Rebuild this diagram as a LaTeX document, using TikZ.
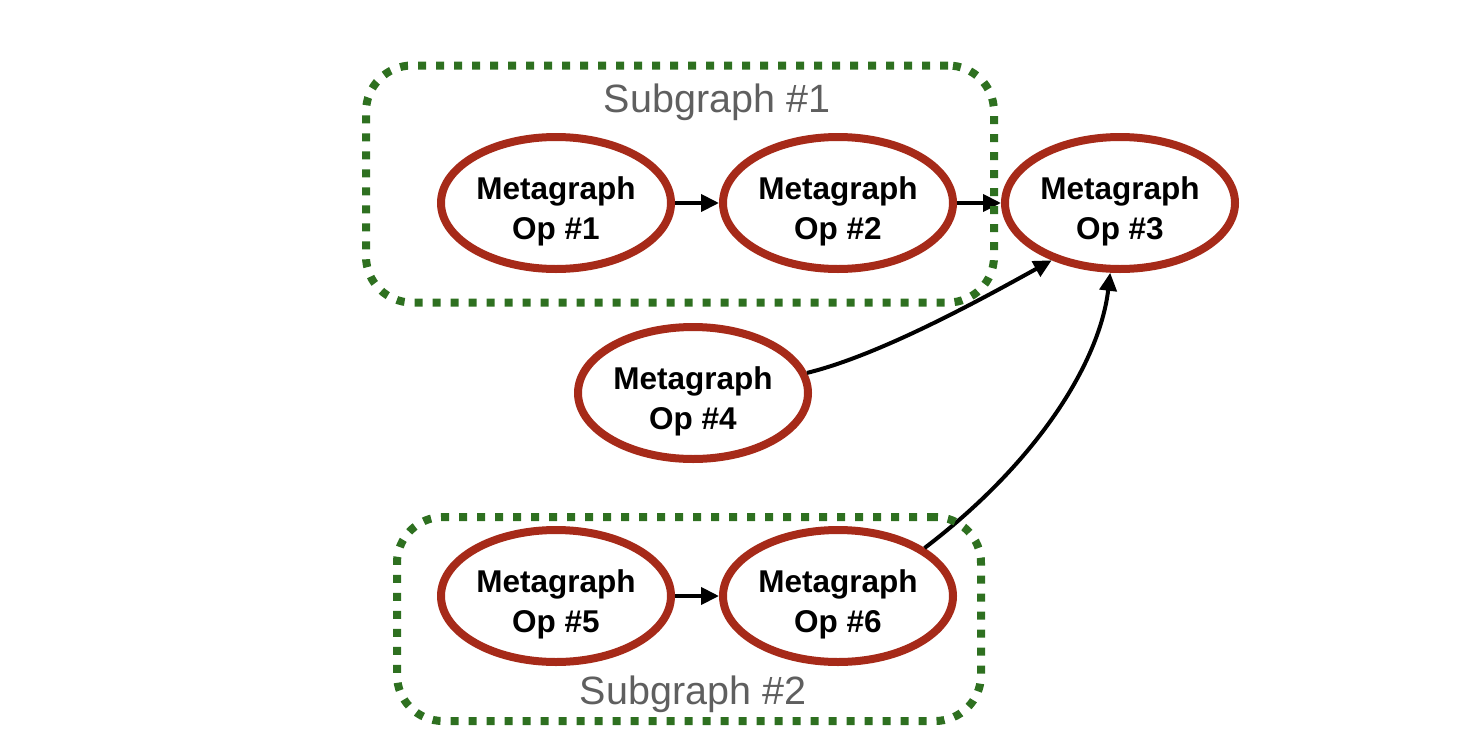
\documentclass[tikz,border=0pt]{standalone}
\usepackage{fontspec}
\setmainfont{Liberation Sans}
\usetikzlibrary{shapes.geometric,arrows.meta}
\definecolor{opred}{RGB}{166,42,25}
\definecolor{subgreen}{RGB}{46,112,32}
\definecolor{labelgray}{RGB}{95,95,95}
\tikzset{
  opnode/.style={ellipse, draw=opred, line width=8pt, fill=white,
    minimum width=230pt, minimum height=132pt, inner sep=0pt},
  optext/.style={align=center, text depth=0pt, inner sep=0pt, yshift=-5pt,
    font=\bfseries\fontsize{31.5}{40}\selectfont},
  subbox/.style={rectangle, draw=subgreen, line width=8pt,
    dash pattern=on 8pt off 10pt, rounded corners=46pt, inner sep=0pt},
  sublabel/.style={anchor=base, text=labelgray, inner sep=0pt,
    font=\fontsize{39.5}{46}\selectfont},
  flow/.style={line width=4pt, -{Triangle[length=18pt,width=17pt]}}
}
\begin{document}
\begin{tikzpicture}[x=1pt,y=-1pt]
\useasboundingbox (0,0) rectangle (1467,739);
% operation nodes
\node[opnode, label={[optext]center:{Metagraph\\Op \#1}}] (op1) at (556,203) {};
\node[opnode, label={[optext]center:{Metagraph\\Op \#2}}] (op2) at (838,203) {};
\node[opnode, label={[optext]center:{Metagraph\\Op \#3}}] (op3) at (1120,203) {};
\node[opnode, label={[optext]center:{Metagraph\\Op \#4}}] (op4) at (693,393) {};
\node[opnode, label={[optext]center:{Metagraph\\Op \#5}}] (op5) at (556,596) {};
\node[opnode, label={[optext]center:{Metagraph\\Op \#6}}] (op6) at (838,596) {};
% connectors
\draw[flow] (op1) -- (op2);
\draw[flow] (op2) -- (op3);
\draw[flow] (op5) -- (op6);
\draw[flow] (op4.10) .. controls (880,355) and (980,300) .. (op3.220);
\draw[flow] (op6.29) .. controls (1040,460) and (1100,360) .. (op3.262);
% subgraph boxes
\node[subbox, minimum width=628pt, minimum height=237pt] (sub1) at (680,184) {};
\node[subbox, minimum width=584pt, minimum height=204pt] (sub2) at (689,619) {};
\node[sublabel] (sub1label) at (717,112) {Subgraph \#1};
\node[sublabel] (sub2label) at (693,704) {Subgraph \#2};
\end{tikzpicture}
\end{document}
